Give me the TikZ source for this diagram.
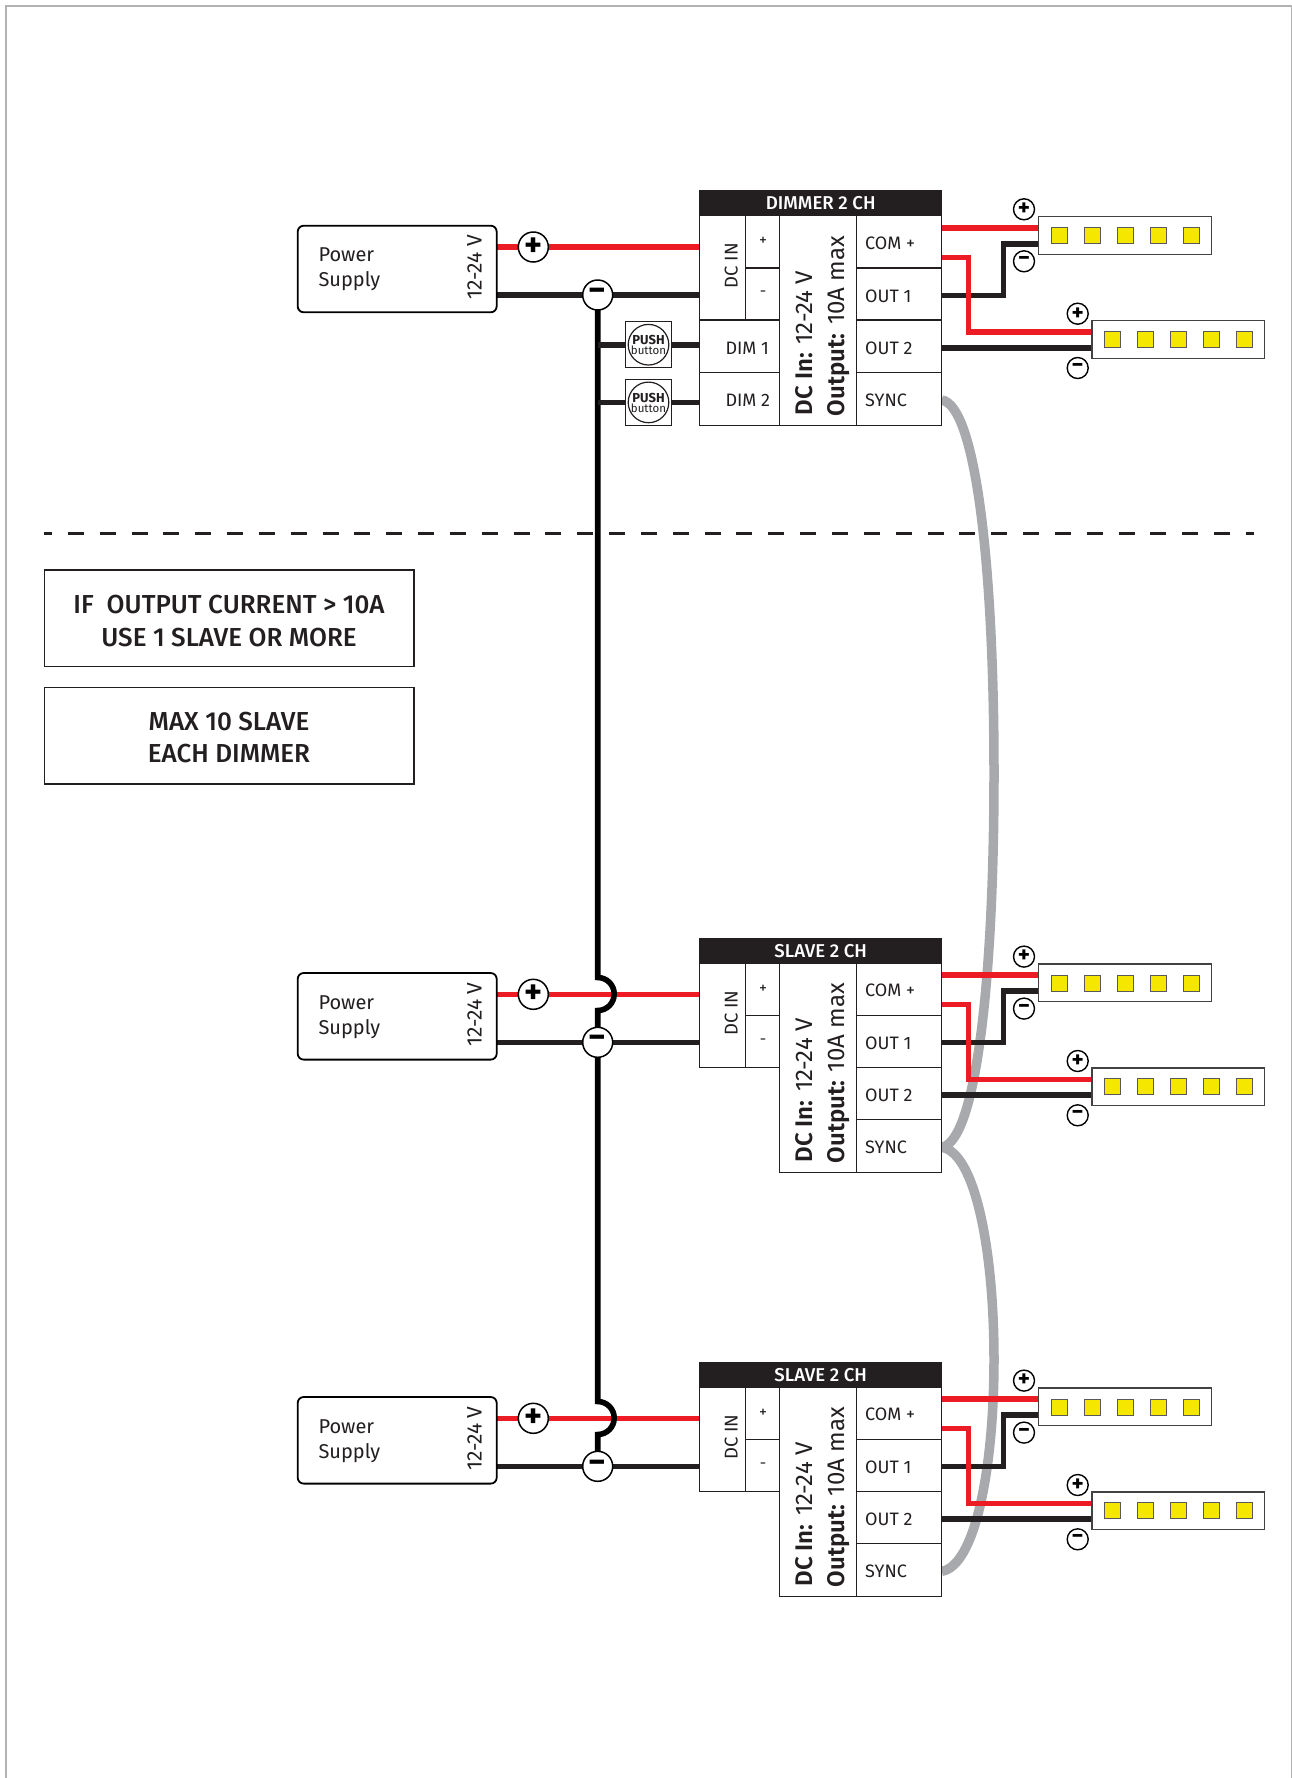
\documentclass[tikz,border=0pt]{standalone}
\usepackage{fontspec}
\setmainfont{Fira Sans}
\newfontfamily\medfont{Fira Sans Medium}
\newfontfamily\semifont{Fira Sans SemiBold}
\usetikzlibrary{calc}
\definecolor{wblack}{HTML}{231F20}
\definecolor{wred}{HTML}{ED1C24}
\definecolor{wgray}{HTML}{A7A9AC}
\definecolor{ledy}{HTML}{F5E700}
\newcommand{\fsz}[1]{\fontsize{#1}{#1}\selectfont}
\pgfdeclarelayer{synclayer}
\pgfdeclarelayer{wirelayer}
\pgfsetlayers{synclayer,wirelayer,main}
\tikzset{
 cellbox/.style={draw=wblack,line width=1.1pt,fill=white,rectangle,inner sep=0pt,outer sep=0pt,anchor=north west},
 txt/.style={inner sep=0pt,outer sep=0pt,text=wblack},
 redw/.style={draw=wred,line width=5.6pt,line join=miter},
 blkw/.style={draw=wblack,line width=5.6pt,line join=miter},
 busw/.style={draw=black,line width=5.6pt},
 syncw/.style={draw=wgray,line width=9.5pt},
 pole/.style={circle,draw=black,line width=1.5pt,fill=white,inner sep=0pt,outer sep=0pt,text=black,minimum size=30pt,font=\bfseries\fsz{34}},
 spole/.style={circle,draw=black,line width=1.4pt,fill=white,inner sep=0pt,outer sep=0pt,text=black,minimum size=21pt,font=\bfseries\fsz{23}},
 ledbox/.style={draw=black!65,line width=1pt,fill=ledy,rectangle,minimum width=16pt,minimum height=16pt,inner sep=0pt,outer sep=0pt},
 stripbox/.style={draw=wblack!85,line width=1.2pt,fill=white,rectangle,inner sep=0pt,outer sep=0pt,anchor=north west,minimum width=172.7pt,minimum height=37.6pt},
 notebox/.style={draw=wblack,line width=1.1pt,rectangle,inner sep=0pt,outer sep=0pt,anchor=north west,minimum width=369.7pt,minimum height=96.8pt},
}
\newcommand{\minusglyph}{\raisebox{-0.9pt}{−}}
\newcommand{\strips}[1]{%
 \node[stripbox] (stripA#1) at (1038.6,216.7) {};
 \node[stripbox] (stripB#1) at (1092,320.7) {};
 \foreach \k/\xa/\xb in {1/1059.2/1112.6,2/1092/1145.6,3/1125/1178.5,4/1158/1211.5,5/1191/1244.4}{
  \node[ledbox] (ledA#1\k) at (\xa,235.7) {};
  \node[ledbox] (ledB#1\k) at (\xb,339.3) {};
 }
 \node[spole] (sAp#1) at (1024,209.3) {+};
 \node[spole] (sAm#1) at (1024,261.3) {\minusglyph};
 \node[spole] (sBp#1) at (1077.7,313.7) {+};
 \node[spole] (sBm#1) at (1077.7,368) {\minusglyph};
}
\newcommand{\unit}[3]{% id, dy, title
\begin{scope}[shift={(0,#2)}]
 \node[draw=black,line width=1.8pt,fill=white,rounded corners=6pt,minimum width=199pt,minimum height=86.6pt,inner sep=0pt,outer sep=0pt,anchor=north west] (ps#1) at (297.7,225.7) {};
 \node[txt,anchor=base west,font=\fsz{20}] (pst#1) at (318.5,261.7) {Power};
 \node[txt,anchor=base west,font=\fsz{20}] (psu#1) at (318.5,286.7) {Supply};
 \node[txt,anchor=base west,rotate=90,font=\fsz{21}] (psv#1) at (481.7,299.5) {12-24 V};
 \node[pole] (pp#1) at (533.3,247) {+};
 \node[pole] (pm#1) at (597.7,295) {\minusglyph};
 \node[cellbox,fill=wblack,minimum width=242pt,minimum height=24.7pt] (hd#1) at (699.7,191) {};
 \node[txt,text=white,anchor=base,font=\medfont\fsz{18.6}] (hdt#1) at (820.7,209.8) {#3};
 \node[cellbox,minimum width=45.6pt,minimum height=104.3pt] (dcin#1) at (699.7,215.7) {};
 \node[txt,anchor=base west,rotate=90,font=\fsz{18.5}] (dct#1) at (737.5,288.5) {DC IN};
 \node[cellbox,minimum width=34.5pt,minimum height=52.3pt] (dcp#1) at (745.3,215.7) {};
 \node[cellbox,minimum width=34.5pt,minimum height=52pt] (dcm#1) at (745.3,268) {};
 \node[txt,font=\fsz{16}] (dcpt#1) at (763,241.7) {+};
 \node[txt,font=\fsz{16}] (dcmt#1) at (763,294) {-};
 \node[cellbox,minimum width=76.9pt,minimum height=209.6pt] (mid#1) at (779.8,215.7) {};
 \node[txt,anchor=base west,rotate=90,font=\fsz{24}] (mida#1) at (812.5,415) {{\semifont DC In:} 12-24 V};
 \node[txt,anchor=base west,rotate=90,font=\fsz{24}] (midb#1) at (844.6,416) {{\semifont Output:} 10A max};
 \node[cellbox,minimum width=85pt,minimum height=52.3pt] (com#1) at (856.7,215.7) {};
 \node[cellbox,minimum width=85pt,minimum height=52pt] (oa#1) at (856.7,268) {};
 \node[cellbox,minimum width=85pt,minimum height=52.5pt] (ob#1) at (856.7,320) {};
 \node[cellbox,minimum width=85pt,minimum height=52.8pt] (sy#1) at (856.7,372.5) {};
 \node[txt,anchor=base west,font=\fsz{18}] (comt#1) at (865.2,249) {COM +};
 \node[txt,anchor=base west,font=\fsz{18}] (oat#1) at (865.2,302.3) {OUT 1};
 \node[txt,anchor=base west,font=\fsz{18}] (obt#1) at (865.2,354) {OUT 2};
 \node[txt,anchor=base west,font=\fsz{18}] (syt#1) at (865.2,406) {SYNC};
 \strips{#1}
 \coordinate (cA#1) at (941.7,227.7);
 \coordinate (cB#1) at (941.7,257.3);
 \coordinate (oA#1) at (941.7,295.3);
 \coordinate (oB#1) at (941.7,347.7);
 \coordinate (jA#1) at (1003.4,243.7);
 \coordinate (jB#1) at (968.5,332);
 \coordinate (syc#1) at (941.7,400);
 \begin{pgfonlayer}{wirelayer}
  \draw[redw] (ps#1.east |- pp#1) -- (pp#1) -- (dcin#1.west |- pp#1);
  \draw[blkw] (ps#1.east |- pm#1) -- (pm#1) -- (dcin#1.west |- pm#1);
  \draw[redw] (cA#1) -- (stripA#1.west |- cA#1);
  \draw[blkw] (oA#1) -- (jA#1 |- oA#1) -- (jA#1) -- (stripA#1.west |- jA#1);
  \draw[redw] (cB#1) -- (jB#1 |- cB#1) -- (jB#1) -- (stripB#1.west |- jB#1);
  \draw[blkw] (oB#1) -- (stripB#1.west |- oB#1);
 \end{pgfonlayer}
\end{scope}}
\newcommand{\pushbtn}[2]{% id, y
 \node[draw=wblack,line width=1.1pt,fill=white,rectangle,minimum size=45.6pt,inner sep=0pt,outer sep=0pt] (pb#1) at (648.5,#2) {};
 \node[draw=wblack,line width=1.2pt,circle,minimum size=40.6pt,inner sep=0pt,outer sep=0pt] (pc#1) at (pb#1) {};
 \node[txt,font=\bfseries\fsz{13}] (pbt#1) at ($(pb#1)+(0,-4.8)$) {PUSH};
 \node[txt,font=\fsz{11.5}] (pbb#1) at ($(pb#1)+(0,6)$) {button};
}
\begin{document}
\begin{tikzpicture}[x=1pt,y=-1pt]
\useasboundingbox (0,0) rectangle (1292,1778);
\begin{pgfonlayer}{synclayer}
\fill[white] (0,0) rectangle (1292,1778);
\end{pgfonlayer}
\draw[draw=black!30,line width=1.2pt] (6,1778) -- (6,6) -- (1291.3,6) -- (1291.3,1778);
% dashed separator
\coordinate (dashL) at (44,533.7);
\coordinate (dashR) at (1254,533.7);
\draw[draw=wblack,line width=2.8pt,dash pattern=on 16pt off 15.84pt,dash phase=8pt] (dashL) -- (dashR);
% notes
\node[notebox] (noteA) at (44.3,570) {};
\node[txt,anchor=base,font=\medfont\fsz{26}] (noteAa) at (229,613) {IF\ \ OUTPUT CURRENT > 10A};
\node[txt,anchor=base,font=\medfont\fsz{26}] (noteAb) at (229,646) {USE 1 SLAVE OR MORE};
\node[notebox] (noteB) at (44.3,687.2) {};
\node[txt,anchor=base,font=\medfont\fsz{26}] (noteBa) at (229,730.4) {MAX 10 SLAVE};
\node[txt,anchor=base,font=\medfont\fsz{26}] (noteBb) at (229,762.5) {EACH DIMMER};
% units
\unit{1}{0}{DIMMER 2 CH}
\unit{2}{747.3}{SLAVE 2 CH}
\unit{3}{1171.3}{SLAVE 2 CH}
% dimmer extra rows
\node[cellbox,minimum width=80.1pt,minimum height=52.5pt] (dima) at (699.7,320) {};
\node[cellbox,minimum width=80.1pt,minimum height=52.8pt] (dimb) at (699.7,372.5) {};
\node[txt,anchor=base west,font=\fsz{18}] (dimat) at (725.5,354) {DIM 1};
\node[txt,anchor=base west,font=\fsz{18}] (dimbt) at (725.5,406) {DIM 2};
\pushbtn{a}{344.7}
\pushbtn{b}{402.4}
% bus and wires
\coordinate (ja) at (597.7,977.5);
\coordinate (jb) at (597.7,1401.5);
\begin{pgfonlayer}{wirelayer}
 \draw[busw] (pm1.south) -- (ja) arc[start angle=90,end angle=-90,radius=16.5pt] -- (pm2.north);
 \draw[busw] (pm2.south) -- (jb) arc[start angle=90,end angle=-90,radius=16.5pt] -- (pm3.north);
 \draw[blkw] (pm1 |- pba) -- (pba.west);
 \draw[blkw] (pba.east) -- (dima.west |- pba);
 \draw[blkw] (pm1 |- pbb) -- (pbb.west);
 \draw[blkw] (pbb.east) -- (dimb.west |- pbb);
\end{pgfonlayer}
\begin{pgfonlayer}{synclayer}
 \draw[syncw] (syc1) .. controls (975,405) and (994,560) .. (994,773.5) .. controls (994,987) and (975,1142) .. (syc2);
 \draw[syncw] (syc2) .. controls (975,1152) and (994,1250) .. (994,1359.5) .. controls (994,1469) and (975,1566) .. (syc3);
\end{pgfonlayer}
\end{tikzpicture}
\end{document}
